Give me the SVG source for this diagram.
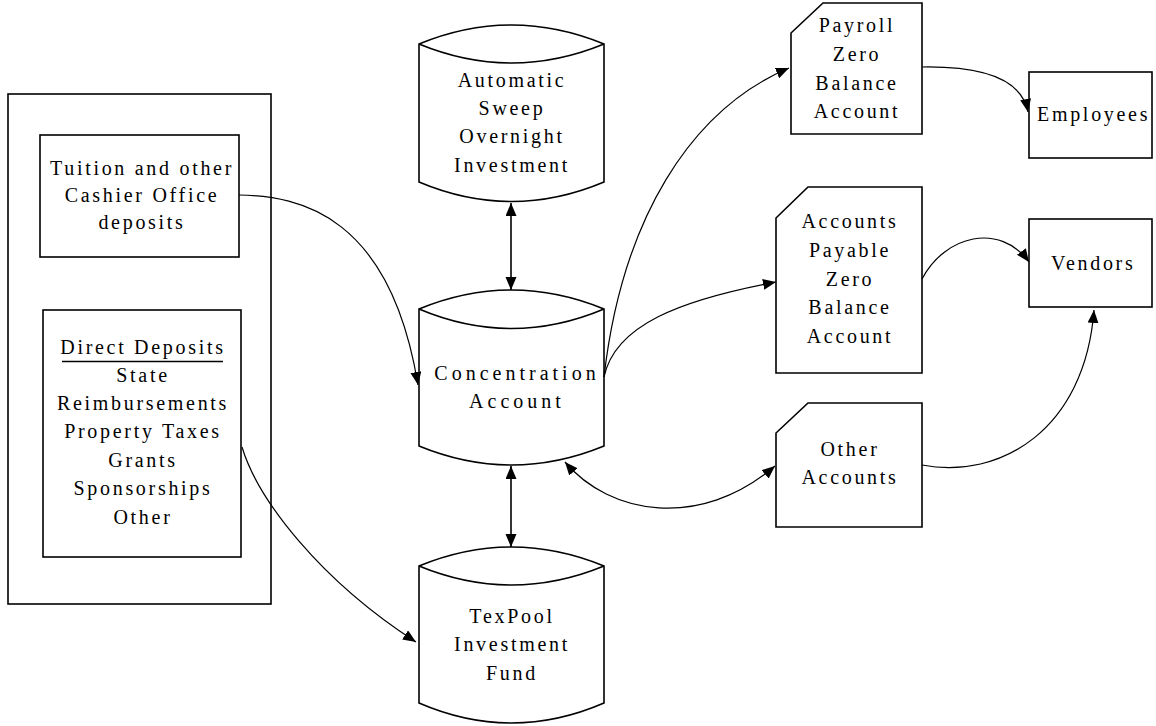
<svg xmlns="http://www.w3.org/2000/svg" width="1156" height="726" viewBox="0 0 1156 726">
  <defs>
    <style>
      .shape { fill: #fff; stroke: #000; stroke-width: 1.6; }
      .frame { fill: none; stroke: #000; stroke-width: 1.6; }
      .link { fill: none; stroke: #000; stroke-width: 1.2; }
      .axis { fill: none; stroke: #000; stroke-width: 1.6; }
      text { font-family: "Liberation Serif", "Times New Roman", serif; font-size: 20px; fill: #000; letter-spacing: 2.7px; }
      .mid { text-anchor: middle; }
      .wide { letter-spacing: 4px; }
    </style>
    <marker id="head" markerUnits="userSpaceOnUse" markerWidth="14" markerHeight="12" refX="13" refY="5.5" orient="auto-start-reverse">
      <path d="M0,0 L13,5.5 L0,11 z" fill="#000"/>
    </marker>
  </defs>

  <rect width="1156" height="726" fill="#fff"/>

  <!-- deposit sources grouped in one frame -->
  <g id="deposit-sources">
    <rect class="frame" x="8" y="94" width="263" height="510"/>
  </g>

  <g id="tuition">
    <rect class="shape" x="40" y="135" width="199" height="122"/>
    <text class="mid" x="142" y="175">Tuition and other</text>
    <text class="mid" x="142" y="202">Cashier Office</text>
    <text class="mid" x="142" y="229">deposits</text>
  </g>

  <g id="direct-deposits">
    <rect class="shape" x="43" y="310" width="198" height="247"/>
    <text class="mid" x="143" y="354">Direct Deposits</text>
    <line x1="62" y1="361.5" x2="223" y2="361.5" stroke="#000" stroke-width="1.5"/>
    <text class="mid" x="143" y="382">State</text>
    <text class="mid" x="143" y="410">Reimbursements</text>
    <text class="mid" x="143" y="438">Property Taxes</text>
    <text class="mid" x="143" y="467">Grants</text>
    <text class="mid" x="143" y="495">Sponsorships</text>
    <text class="mid" x="143" y="524">Other</text>
  </g>

  <!-- storage cylinders -->
  <g id="sweep">
    <path class="shape" d="M419,44 Q511.5,6 604,44 L604,182 Q511.5,221 419,182 Z"/>
    <path class="frame" d="M419,44 Q511.5,82 604,44"/>
    <text class="mid" x="512" y="87">Automatic</text>
    <text class="mid" x="512" y="115">Sweep</text>
    <text class="mid" x="512" y="143">Overnight</text>
    <text class="mid" x="512" y="172">Investment</text>
  </g>

  <g id="concentration">
    <path class="shape" d="M419,309 Q511.5,271 604,309 L604,446 Q511.5,484 419,446 Z"/>
    <path class="frame" d="M419,309 Q511.5,348 604,309"/>
    <text class="mid wide" x="517" y="380">Concentration</text>
    <text class="mid wide" x="517" y="408">Account</text>
  </g>

  <g id="texpool">
    <path class="shape" d="M419,566 Q511.5,528 604,566 L604,703 Q511.5,743 419,703 Z"/>
    <path class="frame" d="M419,566 Q511.5,604 604,566"/>
    <text class="mid" x="512" y="623">TexPool</text>
    <text class="mid" x="512" y="651">Investment</text>
    <text class="mid" x="512" y="680">Fund</text>
  </g>

  <!-- disbursement accounts (clipped-corner cards) -->
  <g id="payroll">
    <path class="shape" d="M823,3 L922,3 L922,134 L791,134 L791,33 Z"/>
    <text class="mid" x="857" y="32">Payroll</text>
    <text class="mid" x="857" y="61">Zero</text>
    <text class="mid" x="857" y="90">Balance</text>
    <text class="mid" x="857" y="118">Account</text>
  </g>

  <g id="payable">
    <path class="shape" d="M808,187 L922,187 L922,373 L776,373 L776,218 Z"/>
    <text class="mid" x="850" y="228">Accounts</text>
    <text class="mid" x="850" y="257">Payable</text>
    <text class="mid" x="850" y="286">Zero</text>
    <text class="mid" x="850" y="314">Balance</text>
    <text class="mid" x="850" y="343">Account</text>
  </g>

  <g id="other-accounts">
    <path class="shape" d="M808,403 L922,403 L922,527 L776,527 L776,433 Z"/>
    <text class="mid" x="850" y="456">Other</text>
    <text class="mid" x="850" y="484">Accounts</text>
  </g>

  <!-- payees -->
  <g id="employees">
    <rect class="shape" x="1029" y="72" width="123" height="86"/>
    <text x="1037" y="121">Employees</text>
  </g>

  <g id="vendors">
    <rect class="shape" x="1029" y="219" width="123" height="88"/>
    <text x="1051" y="270">Vendors</text>
  </g>

  <!-- money flows -->
  <g id="connectors">
    <path class="link" d="M239,195 C300,196 390,215 418,385" marker-end="url(#head)"/>
    <path class="link" d="M242,447 C258,500 320,580 416,642" marker-end="url(#head)"/>
    <line class="axis" x1="511" y1="203" x2="511" y2="290" marker-start="url(#head)" marker-end="url(#head)"/>
    <line class="axis" x1="511" y1="466" x2="511" y2="547" marker-start="url(#head)" marker-end="url(#head)"/>
    <path class="link" d="M604,377 C622,220 690,110 789,68" marker-end="url(#head)"/>
    <path class="link" d="M604,377 C615,325 680,300 776,282" marker-end="url(#head)"/>
    <path class="link" d="M565,462 C610,515 700,530 775,466" marker-start="url(#head)" marker-end="url(#head)"/>
    <path class="link" d="M922,67 C985,66 1022,80 1028,112" marker-end="url(#head)"/>
    <path class="link" d="M922,279 C945,235 1000,222 1029,262" marker-end="url(#head)"/>
    <path class="link" d="M922,465 C1000,480 1085,430 1094,310" marker-end="url(#head)"/>
  </g>
</svg>
